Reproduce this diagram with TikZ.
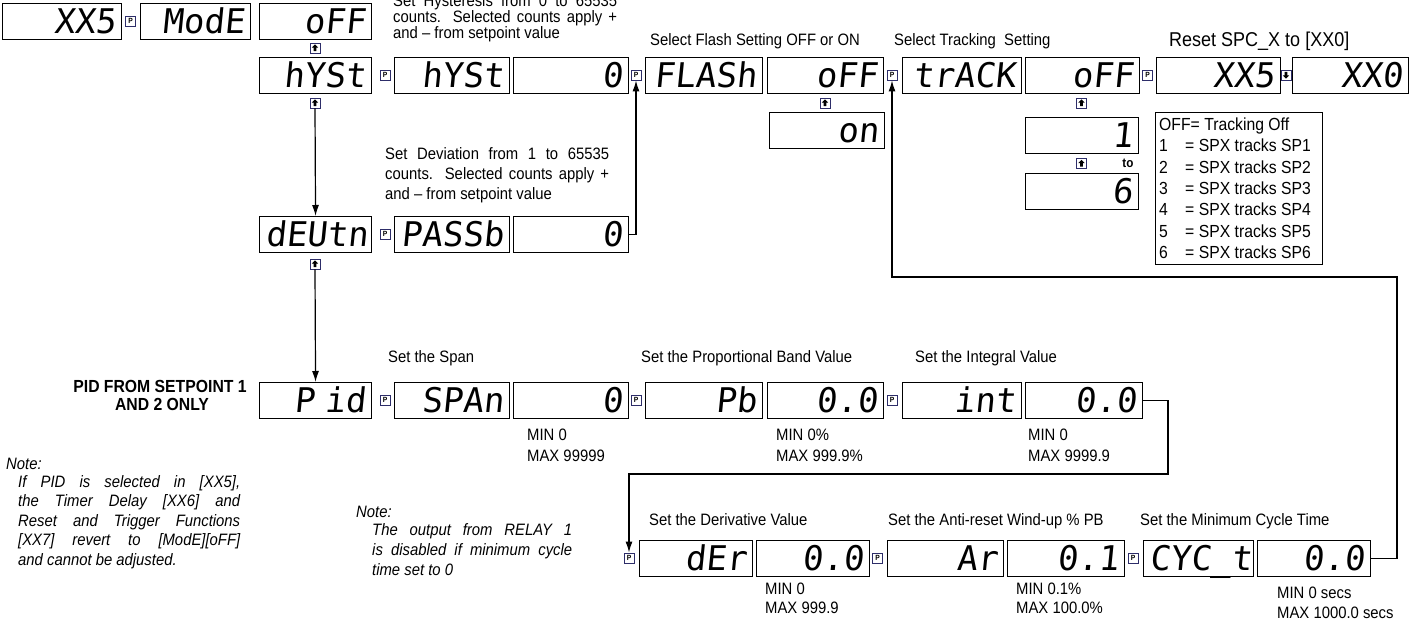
\documentclass[tikz,border=0pt]{standalone}
\usepackage{fontspec}
\setmainfont{Liberation Sans}[FakeStretch=0.9]
\newfontfamily\segfont{DejaVu Sans Mono}[FakeSlant=0.1]
\usetikzlibrary{arrows.meta}
\definecolor{navy}{RGB}{45,45,105}
\newcommand\lblsize{\fontsize{16.5}{18}\selectfont}
\newcommand\dispnode[5]{\pgfmathsetmacro\dispw{#3-#2-12}\node[dispbox,text width=\dispw pt,anchor=north west] (#1) at (#2,#4) {#5};}
\newcommand\upg[1]{\fill[black] ([shift={(0,-3.6)}]#1.center) -- ++(3.2,3.2) -- ++(-1.9,0) -- ++(0,3.6) -- ++(-2.6,0) -- ++(0,-3.6) -- ++(-1.9,0) -- cycle;}
\newcommand\dng[1]{\fill[black] ([shift={(0,3.6)}]#1.center) -- ++(3.2,-3.2) -- ++(-1.9,0) -- ++(0,-3.6) -- ++(-2.6,0) -- ++(0,3.6) -- ++(-1.9,0) -- cycle;}
\tikzset{
  dispbox/.style={draw=black, line width=1.1pt, fill=white, minimum height=36pt, inner xsep=6pt, inner ysep=0pt, align=right, text height=24pt, text depth=0pt, font=\segfont\fontsize{34}{34}\selectfont},
  picon/.style={draw=navy, line width=0.9pt, fill=white, minimum width=10pt, minimum height=10pt, inner sep=0pt, font=\bfseries\fontsize{7.5}{7.5}\selectfont},
  aicon/.style={draw=navy, line width=0.9pt, fill=white, minimum width=10pt, minimum height=10pt, inner sep=0pt},
  conn/.style={draw=black, line width=1.2pt},
  arr/.style={conn, -{Latex[length=11pt,width=7pt]}},
  lbl/.style={inner sep=0pt, anchor=base west, font=\lblsize},
  leg/.style={inner sep=0pt, anchor=base west, font=\fontsize{17.5}{19}\selectfont},
  note/.style={inner sep=0pt, anchor=base west, font=\lblsize\itshape},
  boldlbl/.style={inner sep=0pt, anchor=base, font=\fontsize{17.5}{19}\selectfont\bfseries},
}
\begin{document}
\begin{tikzpicture}[x=1pt,y=-1pt]
\useasboundingbox (0,0) rectangle (1416,623);
\clip (0,0) rectangle (1416,623);

\coordinate (k1) at (1168,474);
\coordinate (k2) at (1397,277);

% Row A
\dispnode{a1}{2}{121}{3}{XX5}
\node[picon] (pa1) at (130.5,21) {P};
\dispnode{a2}{140}{250}{3}{ModE}
\dispnode{a3}{259}{371}{3}{oFF}
\node[aicon] (ua3) at (315,48) {}; \upg{ua3}

% Row B
\dispnode{b1}{259}{371}{57}{hYSt}
\node[picon] (pb1) at (385,75) {P};
\dispnode{b2}{394}{509}{57}{hYSt}
\dispnode{b3}{513}{628}{57}{0}
\node[picon] (pb2) at (636,75) {P};
\dispnode{b4}{645}{762}{57}{FLASh}
\dispnode{b5}{767}{883}{57}{oFF}
\node[picon] (pb3) at (892,75) {P};
\dispnode{b6}{902}{1021}{57}{trACK}
\dispnode{b7}{1025}{1139}{57}{oFF}
\node[picon] (pb4) at (1147.5,75) {P};
\dispnode{b8}{1156}{1280}{57}{XX5}
\node[aicon] (db) at (1286,75) {}; \dng{db}
\dispnode{b9}{1292}{1408}{57}{XX0}

\node[aicon] (ub1) at (315,103) {}; \upg{ub1}
\node[aicon] (ub5) at (825,103) {}; \upg{ub5}
\node[aicon] (ub7) at (1081.5,103) {}; \upg{ub7}
\dispnode{on}{769}{884}{112}{on}
\dispnode{one}{1025}{1138}{117}{1}
\node[aicon] (u1) at (1081.5,163.5) {}; \upg{u1}
\node[inner sep=0pt, font=\bfseries\fontsize{13}{13}\selectfont] (to) at (1128,163.5) {to};
\dispnode{six}{1025}{1138}{173}{6}

% legend
\node[draw=black, line width=0.8pt, anchor=north west, minimum width=167pt, minimum height=152pt, inner sep=0pt] (legend) at (1155,112) {};
\node[leg] (l0) at (1159,130.5) {OFF= Tracking Off};
\foreach \i in {1,...,6}{
  \node[leg] (ln\i) at (1159,{130.5+21.3*\i}) {\i};
  \node[leg] (lt\i) at (1185,{130.5+21.3*\i}) {= SPX tracks SP\i};
}

% Row C
\dispnode{c1}{259}{371}{216}{dEUtn}
\node[picon] (pc1) at (385,234) {P};
\dispnode{c2}{394}{509}{216}{PASSb}
\dispnode{c3}{513}{628}{216}{0}
\node[aicon] (uc1) at (315,264) {}; \upg{uc1}

% Row D
\dispnode{d1}{259}{371}{382}{P\hspace{10pt}id}
\node[picon] (pd1) at (385,400) {P};
\dispnode{d2}{394}{509}{382}{SPAn}
\dispnode{d3}{513}{628}{382}{0}
\node[picon] (pd2) at (636,400) {P};
\dispnode{d4}{645}{762}{382}{Pb}
\dispnode{d5}{767}{883}{382}{0.0}
\node[picon] (pd3) at (892,400) {P};
\dispnode{d6}{902}{1021}{382}{int}
\dispnode{d7}{1025}{1142}{382}{0.0}

% Row E
\node[picon] (pe0) at (629,558) {P};
\dispnode{e1}{639}{752}{540}{dEr}
\dispnode{e2}{756}{869}{540}{0.0}
\node[picon] (pe1) at (877.5,558) {P};
\dispnode{e3}{887}{1003}{540}{Ar}
\dispnode{e4}{1007}{1124}{540}{0.1}
\node[picon] (pe2) at (1133,558) {P};
\dispnode{e5}{1143}{1253}{540}{CYC\_t}
\dispnode{e6}{1257}{1370}{540}{0.0}

% connectors
\draw[arr] (ub1.south) -- (c1.north);
\draw[arr] (uc1.south) -- (d1.north);
\draw[arr] (c3.east) -| (pb2.south);
\draw[arr] (d7.east) -| (k1) -| (pe0.north);
\draw[arr] (e6.east) -| (k2) -| (pb3.south);

% top texts
\node[lbl] (h1) at (393,7) {\makebox[224pt][s]{Set Hysteresis from 0 to 65535}};
\node[lbl] (h2) at (393,23) {\makebox[224pt][s]{counts. Selected counts apply +}};
\node[lbl] (h3) at (393,39) {and -- from setpoint value};
\node[lbl] (fl) at (650,46) {Select Flash Setting OFF or ON};
\node[lbl] (tr) at (894,46) {Select Tracking\ \ Setting};
\node[lbl, font=\fontsize{20}{22}\selectfont] (rs) at (1169,47) {Reset SPC\_X to [XX0]};

% deviation text
\node[lbl] (v1) at (385,159) {\makebox[224pt][s]{Set Deviation from 1 to 65535}};
\node[lbl] (v2) at (385,179) {\makebox[224pt][s]{counts. Selected counts apply +}};
\node[lbl] (v3) at (385,199) {and -- from setpoint value};

% row D labels
\node[lbl] (sp) at (388,362) {Set the Span};
\node[lbl] (pbl) at (641,362) {Set the Proportional Band Value};
\node[lbl] (inl) at (915,362) {Set the Integral Value};
\node[lbl] (m1) at (527,440) {MIN 0};
\node[lbl] (x1) at (527,461) {MAX 99999};
\node[lbl] (m2) at (776,440) {MIN 0\%};
\node[lbl] (x2) at (776,461) {MAX 999.9\%};
\node[lbl] (m3) at (1028,440) {MIN 0};
\node[lbl] (x3) at (1028,461) {MAX 9999.9};

% row E labels
\node[lbl] (dl) at (649,525) {Set the Derivative Value};
\node[lbl] (al) at (888,525) {Set the Anti-reset Wind-up \% PB};
\node[lbl] (cl) at (1140,525) {Set the Minimum Cycle Time};
\node[lbl] (m4) at (765,594) {MIN 0};
\node[lbl] (x4) at (765,613) {MAX 999.9};
\node[lbl] (m5) at (1016,594) {MIN 0.1\%};
\node[lbl] (x5) at (1016,613) {MAX 100.0\%};
\node[lbl] (m6) at (1277,598) {MIN 0 secs};
\node[lbl] (x6) at (1277,618) {MAX 1000.0 secs};

% PID label
\node[boldlbl] (pid1) at (160,392) {PID FROM SETPOINT 1};
\node[boldlbl] (pid2) at (162,410) {AND 2 ONLY};

% notes
\node[note] (n0) at (6,469) {Note:};
\node[note] (n1) at (18,487) {\makebox[222pt][s]{If PID is selected in [XX5],}};
\node[note] (n2) at (18,506.5) {\makebox[222pt][s]{the Timer Delay [XX6] and}};
\node[note] (n3) at (18,526) {\makebox[222pt][s]{Reset and Trigger Functions}};
\node[note] (n4) at (18,545.5) {\makebox[222pt][s]{[XX7] revert to [ModE][oFF]}};
\node[note] (n5) at (18,565) {and cannot be adjusted.};
\node[note] (o0) at (356,517) {Note:};
\node[note] (o1) at (372,535) {\makebox[200pt][s]{The output from RELAY 1}};
\node[note] (o2) at (372,555) {\makebox[200pt][s]{is disabled if minimum cycle}};
\node[note] (o3) at (372,575) {time set to 0};
\end{tikzpicture}
\end{document}
